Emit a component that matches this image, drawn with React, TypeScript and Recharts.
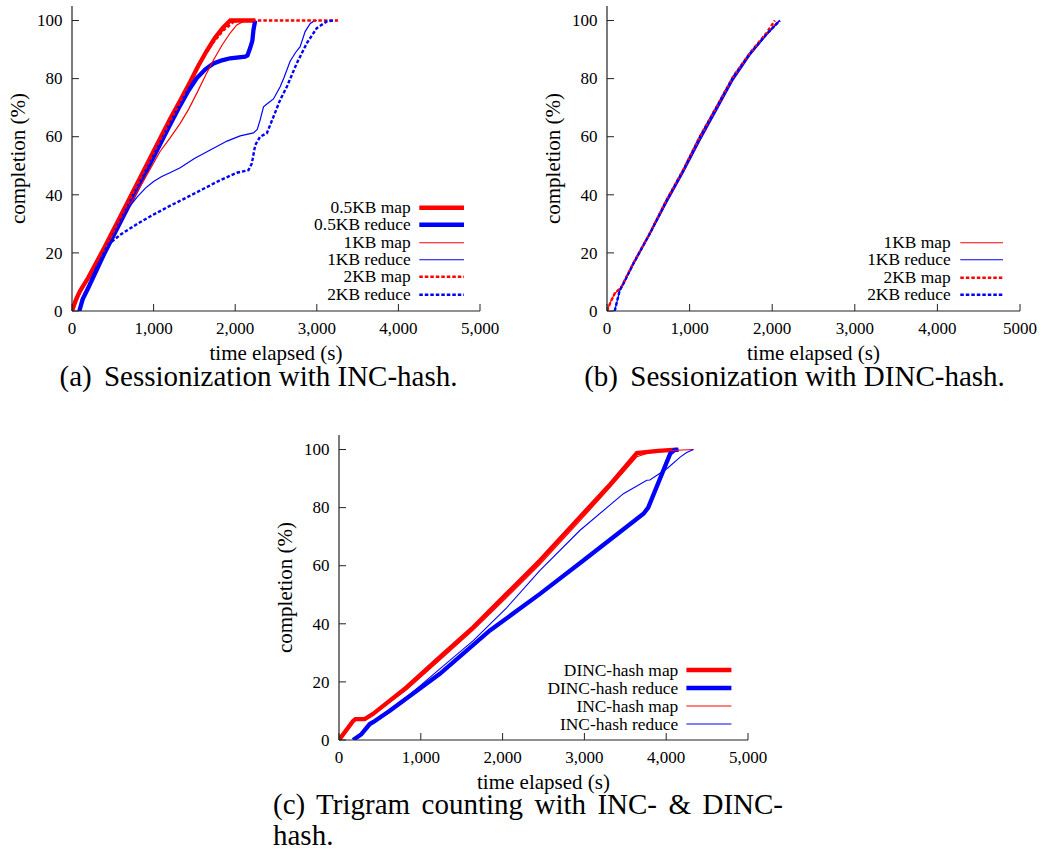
import { Line, LineChart, XAxis, YAxis } from 'recharts';

type Pt = { t: number; v: number };
type Series = { name: string; data: Pt[]; color: string; width: number; dash?: string };

const SERIF = '"Liberation Serif", "Times New Roman", serif';
const RED = '#ff0000';
const BLUE = '#0000ff';

const X_TICKS = [0, 1000, 2000, 3000, 4000, 5000];
const Y_TICKS = [0, 20, 40, 60, 80, 100];
const X_LABELS_COMMA = ['0', '1,000', '2,000', '3,000', '4,000', '5,000'];
const X_LABELS_B = ['0', '1,000', '2,000', '3,000', '4,000', '5000'];

const pts = (rows: number[][]): Pt[] => rows.map(([t, v]) => ({ t, v }));

// (a) Sessionization with INC-hash
const aMap05 = pts([[0, 0], [50, 4], [100, 7], [200, 11.5], [400, 22], [600, 33], [800, 44], [1000, 55], [1200, 66], [1326, 72.5], [1450, 79], [1550, 84.5], [1650, 89.5], [1750, 94], [1850, 97.5], [1940, 100], [2245, 100]]);
const aReduce05 = pts([[90, 0], [130, 4], [200, 8], [400, 20], [600, 31], [800, 42], [1000, 53], [1200, 64], [1326, 70.8], [1430, 76], [1530, 80.2], [1634, 83.2], [1734, 85.2], [1838, 86.3], [1938, 87], [2122, 87.6], [2150, 88], [2183, 90.5], [2210, 93], [2224, 96.8], [2245, 100]]);
const aMap1 = pts([[0, 0], [100, 6], [300, 16], [500, 26], [700, 36], [900, 46], [1081, 55], [1200, 59.5], [1326, 64.6], [1430, 69.5], [1530, 75], [1634, 81], [1734, 86.4], [1838, 91.5], [1938, 95.7], [2020, 98.5], [2101, 99.7], [2200, 100]]);
const aReduce1 = pts([[90, 0], [150, 5], [300, 15], [500, 25.5], [600, 31], [700, 35.8], [800, 39.3], [900, 42.3], [1000, 44.6], [1100, 46.3], [1200, 47.6], [1326, 49.3], [1500, 52.5], [1700, 55.5], [1900, 58.5], [2061, 60.3], [2224, 61.3], [2270, 62.5], [2306, 65.8], [2347, 70.3], [2400, 71.5], [2469, 73], [2551, 77.2], [2600, 80.5], [2673, 86], [2740, 89], [2796, 91], [2857, 96.2], [2920, 99], [2959, 99.7], [3000, 100]]);
const aMap2 = pts([[0, 0], [100, 6.5], [400, 21.5], [700, 38], [1000, 54.5], [1326, 72], [1530, 84], [1734, 92.5], [1850, 96.5], [1938, 98.5], [2000, 100], [3260, 100]]);
const aReduce2 = pts([[90, 0], [150, 5], [300, 15], [448, 23], [600, 26.4], [800, 30], [1000, 33.2], [1200, 36.2], [1400, 39], [1600, 41.9], [1800, 44.8], [2020, 47.6], [2163, 48.5], [2204, 50.8], [2245, 57.1], [2306, 60], [2388, 61.2], [2428, 64], [2551, 72.7], [2633, 77.2], [2755, 85.3], [2878, 92.2], [3000, 97.4], [3123, 99.7], [3204, 100]]);

// (b) Sessionization with DINC-hash
const bMap1 = pts([[0, 0], [50, 3.5], [93, 6], [174, 8], [315, 16], [517, 26.5], [720, 37.5], [921, 48], [1123, 59], [1326, 69.5], [1527, 80], [1729, 88.3], [1931, 95.3], [2050, 99.2], [2093, 100]]);
const bReduce1 = pts([[93, 0], [154, 7], [200, 9.3], [315, 15.8], [517, 26.3], [720, 37.2], [921, 47.5], [1123, 58.5], [1326, 69], [1527, 79.5], [1729, 88], [1931, 95], [2093, 100]]);
const bMap2 = pts([[0, 0], [50, 3.5], [93, 6], [174, 8.3], [315, 16.3], [517, 26.7], [720, 38.2], [921, 48.5], [1123, 60], [1326, 70.3], [1527, 80.7], [1729, 88.8], [1931, 95.7], [2032, 100]]);
const bReduce2 = pts([[93, 0], [154, 7.1], [200, 9.5], [315, 16.1], [517, 26.6], [720, 38], [921, 48.3], [1123, 59.8], [1326, 70.1], [1527, 80.5], [1729, 88.6], [1931, 95.3], [2093, 100]]);

// (c) Trigram counting
const cDincMap = pts([[0, 0], [170, 6.5], [200, 7.2], [314, 7.2], [417, 9], [825, 18.1], [1233, 28.5], [1641, 38.8], [2049, 50.3], [2457, 61.8], [2947, 76.8], [3300, 87.5], [3641, 98.8], [3900, 99.5], [4131, 100]]);
const cDincReduce = pts([[172, 0], [274, 2], [376, 5.5], [421, 6.2], [621, 10.1], [1233, 22.8], [1845, 37.7], [2457, 50.3], [2987, 61.8], [3722, 77.9], [3780, 80], [4049, 98.6], [4100, 99.8], [4151, 100]]);
const cIncMap = pts([[0, 0], [160, 6], [210, 7], [320, 7.3], [420, 8.8], [825, 17.3], [1233, 27.5], [1641, 37.8], [2049, 49], [2457, 60.5], [2947, 75.5], [3300, 86.5], [3641, 97.5], [3800, 99], [4000, 99.6], [4334, 100]]);
const cIncReduce = pts([[180, 0], [280, 2], [380, 5.5], [620, 10.5], [825, 14.7], [1233, 24.5], [1641, 34.2], [2049, 45.5], [2457, 58.4], [2947, 72.2], [3477, 84.8], [3763, 89.4], [3800, 89.5], [4008, 93.4], [4171, 97.4], [4250, 99], [4334, 100]]);

const seriesA: Series[] = [
  { name: '0.5KB map', data: aMap05, color: RED, width: 4.3 },
  { name: '0.5KB reduce', data: aReduce05, color: BLUE, width: 4.3 },
  { name: '1KB map', data: aMap1, color: RED, width: 1.2 },
  { name: '1KB reduce', data: aReduce1, color: BLUE, width: 1.2 },
  { name: '2KB map', data: aMap2, color: RED, width: 2.4, dash: '3.5 2' },
  { name: '2KB reduce', data: aReduce2, color: BLUE, width: 2.4, dash: '3.5 2' },
];

const seriesB: Series[] = [
  { name: '1KB map', data: bMap1, color: RED, width: 1.2 },
  { name: '1KB reduce', data: bReduce1, color: BLUE, width: 1.2 },
  { name: '2KB map', data: bMap2, color: RED, width: 2.4, dash: '3.5 2' },
  { name: '2KB reduce', data: bReduce2, color: BLUE, width: 2.4, dash: '3.5 2' },
];

const seriesC: Series[] = [
  { name: 'DINC-hash map', data: cDincMap, color: RED, width: 4.3 },
  { name: 'DINC-hash reduce', data: cDincReduce, color: BLUE, width: 4.3 },
  { name: 'INC-hash map', data: cIncMap, color: RED, width: 1.1 },
  { name: 'INC-hash reduce', data: cIncReduce, color: BLUE, width: 1.1 },
];

const FRAME = { stroke: '#222', strokeWidth: 1.2 };

function BottomTick(props: any) {
  const { x, y, payload, labels } = props;
  const i = X_TICKS.indexOf(payload.value);
  return (
    <g>
      <line x1={x} x2={x} y1={y} y2={y - 7} stroke="#222" />
      <text x={x} y={y + 22.5} textAnchor="middle" fontSize={17} fontFamily={SERIF} fill="#000">
        {labels[i]}
      </text>
    </g>
  );
}

function TopTick(props: any) {
  const { x, y } = props;
  return <line x1={x} x2={x} y1={y} y2={y + 7} stroke="#222" />;
}

function LeftTick(props: any) {
  const { x, y, payload } = props;
  return (
    <g>
      <line x1={x} x2={x + 7} y1={y} y2={y} stroke="#222" />
      <text x={x - 9.5} y={y} dy="0.34em" textAnchor="end" fontSize={17} fontFamily={SERIF} fill="#000">
        {payload.value}
      </text>
    </g>
  );
}

function RightTick(props: any) {
  const { x, y } = props;
  return <line x1={x} x2={x - 7} y1={y} y2={y} stroke="#222" />;
}

// axis titles drawn from the axis viewBox
function XTitle(props: any) {
  const { x, y, width } = props.viewBox;
  return (
    <text x={x + width / 2} y={y + 49} textAnchor="middle" fontSize={21} fontFamily={SERIF} fill="#000">
      time elapsed (s)
    </text>
  );
}

function YTitle(props: any) {
  const { x, y, height } = props.viewBox;
  return (
    <text
      transform={`translate(${x + 25},${y + height / 2}) rotate(-90)`}
      textAnchor="middle"
      fontSize={21}
      fontFamily={SERIF}
      fill="#000"
    >
      completion (%)
    </text>
  );
}

function Panel({
  left,
  top,
  width,
  right,
  series,
  labels,
}: {
  left: number;
  top: number;
  width: number;
  right: number;
  series: Series[];
  labels: string[];
}) {
  return (
    <div style={{ position: 'absolute', left, top, fontFamily: SERIF }}>
      <LineChart width={width} height={366} margin={{ top: 6, right, bottom: 0, left: 0 }}>
        <XAxis
          xAxisId="b"
          dataKey="t"
          type="number"
          domain={[0, 5000]}
          allowDataOverflow
          ticks={X_TICKS}
          interval={0}
          height={55}
          tickSize={0}
          tickMargin={0}
          tickLine={false}
          axisLine={FRAME}
          tick={(p: any) => <BottomTick {...p} labels={labels} />}
          label={{ content: (p: any) => <XTitle {...p} /> }}
        />
        <XAxis
          xAxisId="t"
          orientation="top"
          dataKey="t"
          type="number"
          domain={[0, 5000]}
          allowDataOverflow
          ticks={X_TICKS}
          interval={0}
          height={0}
          tickSize={0}
          tickMargin={0}
          tickLine={false}
          axisLine={FRAME}
          tick={(p: any) => <TopTick {...p} />}
        />
        <YAxis
          yAxisId="l"
          type="number"
          domain={[0, 105]}
          allowDataOverflow
          ticks={Y_TICKS}
          interval={0}
          width={72}
          tickSize={0}
          tickMargin={0}
          tickLine={false}
          axisLine={FRAME}
          tick={(p: any) => <LeftTick {...p} />}
          label={{ content: (p: any) => <YTitle {...p} /> }}
        />
        <YAxis
          yAxisId="r"
          orientation="right"
          type="number"
          domain={[0, 105]}
          allowDataOverflow
          ticks={Y_TICKS}
          interval={0}
          width={0}
          tickSize={0}
          tickMargin={0}
          tickLine={false}
          axisLine={FRAME}
          tick={(p: any) => <RightTick {...p} />}
        />
        {series.map((s) => (
          <Line
            key={s.name}
            xAxisId="b"
            yAxisId="l"
            data={s.data}
            dataKey="v"
            type="linear"
            stroke={s.color}
            strokeWidth={s.width}
            strokeDasharray={s.dash}
            dot={false}
            activeDot={false}
            isAnimationActive={false}
          />
        ))}
      </LineChart>
    </div>
  );
}

function LegendBox({
  items,
  left,
  top,
  textWidth,
  gap,
  lineLen,
  rowH,
}: {
  items: Series[];
  left: number;
  top: number;
  textWidth: number;
  gap: number;
  lineLen: number;
  rowH: number;
}) {
  return (
    <div style={{ position: 'absolute', left, top, fontFamily: SERIF, fontSize: 17.4, color: '#000' }}>
      {items.map((s) => (
        <div key={s.name} style={{ display: 'flex', alignItems: 'center', height: rowH, lineHeight: `${rowH}px` }}>
          <span style={{ width: textWidth, textAlign: 'right', whiteSpace: 'nowrap' }}>{s.name}</span>
          <svg width={gap + lineLen} height={rowH} style={{ display: 'block' }}>
            <line
              x1={gap}
              x2={gap + lineLen}
              y1={rowH / 2}
              y2={rowH / 2}
              stroke={s.color}
              strokeWidth={s.width}
              strokeDasharray={s.dash}
            />
          </svg>
        </div>
      ))}
    </div>
  );
}

const captionStyle = {
  position: 'absolute' as const,
  fontFamily: SERIF,
  fontSize: 29,
  lineHeight: '20px',
  color: '#000',
  whiteSpace: 'nowrap' as const,
};

export default function App() {
  return (
    <div
      style={{
        position: 'absolute',
        left: 0,
        top: 0,
        width: 1042,
        height: 852,
        background: '#fff',
        overflow: 'hidden',
        fontFamily: SERIF,
      }}
    >
      <Panel left={0} top={0} width={520} right={40} series={seriesA} labels={X_LABELS_COMMA} />
      <LegendBox items={seriesA} left={280.7} top={198.6} textWidth={130} gap={8.3} lineLen={45} rowH={17.48} />
      <div style={{ ...captionStyle, left: 0, top: 366, width: 517, textAlign: 'center' }}>
        <span style={{ marginRight: 5 }}>(a)</span> Sessionization with INC-hash.
      </div>

      <Panel left={535} top={0} width={507} right={22} series={seriesB} labels={X_LABELS_B} />
      <LegendBox items={seriesB} left={820.7} top={233.6} textWidth={130} gap={9.3} lineLen={43} rowH={17.48} />
      <div style={{ ...captionStyle, left: 535, top: 366, width: 519, textAlign: 'center' }}>
        <span style={{ marginRight: 5 }}>(b)</span> Sessionization with DINC-hash.
      </div>

      <Panel left={267} top={429} width={521} right={40} series={seriesC} labels={X_LABELS_COMMA} />
      <LegendBox items={seriesC} left={528.3} top={661} textWidth={150} gap={8.4} lineLen={45} rowH={18} />
      <div style={{ ...captionStyle, left: 273, top: 793.5, width: 510, textAlign: 'justify', textAlignLast: 'justify' }}>
        (c) Trigram counting with INC- &amp; DINC-
      </div>
      <div style={{ ...captionStyle, left: 273, top: 825.2 }}>hash.</div>
    </div>
  );
}
